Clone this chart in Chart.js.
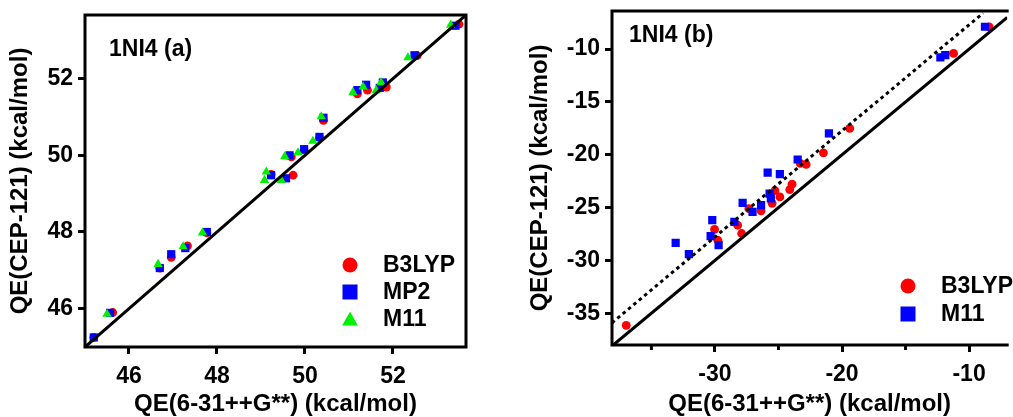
<!DOCTYPE html>
<html>
<head>
<meta charset="utf-8">
<script src="https://cdn.jsdelivr.net/npm/chart.js@4.4.1/dist/chart.umd.min.js"></script>
<style>
  html, body { margin: 0; padding: 0; background: #fff; overflow: hidden; }
  #wrap { position: relative; width: 1013px; height: 417px; }
  #chartA { position: absolute; left: 0; top: 0; }
  #chartB { position: absolute; left: 500px; top: 0; }
</style>
</head>
<body>
<div id="wrap">
  <canvas id="chartA" width="490" height="417"></canvas>
  <canvas id="chartB" width="513" height="417"></canvas>
</div>
<script>
// panel (a): QE(6-31++G**) vs QE(CEP-121), kcal/mol
const aB3lypX = [45.2, 45.63, 46.7, 46.96, 47.33, 47.77, 49.23, 49.73, 49.69, 49.98, 50.33, 50.42, 51.19, 51.42, 51.85, 52.55, 53.5];
const aB3lypY = [45.25, 45.9, 47.06, 47.34, 47.64, 47.98, 49.5, 49.48, 49.96, 50.14, 50.46, 50.91, 51.6, 51.7, 51.78, 52.6, 53.42];
const aMp2X = [45.2, 45.57, 46.7, 46.96, 47.28, 47.77, 49.23, 49.57, 49.65, 49.98, 50.33, 50.42, 51.19, 51.39, 51.7, 51.77, 52.49, 53.42];
const aMp2Y = [45.25, 45.89, 47.06, 47.42, 47.58, 48.0, 49.48, 49.4, 50.0, 50.16, 50.48, 50.98, 51.7, 51.84, 51.76, 51.9, 52.61, 53.38];
const aM11X = [45.5, 46.66, 47.23, 47.67, 49.12, 49.08, 49.46, 49.54, 49.84, 50.18, 50.37, 51.09, 51.32, 51.62, 51.73, 52.34, 53.31];
const aM11Y = [45.86, 47.16, 47.62, 47.98, 49.57, 49.35, 49.35, 49.97, 50.07, 50.37, 51.01, 51.64, 51.79, 51.69, 51.9, 52.55, 53.4];
const aDiag = [45, 53.66];
const aTicks = [46, 48, 50, 52];

// panel (b)
const bB3lypX = [-36.98, -30.03, -29.77, -28.21, -27.9, -27.33, -26.37, -25.5, -25.28, -24.89, -24.11, -23.93, -23.28, -22.82, -21.46, -19.39, -11.22, -8.42];
const bB3lypY = [-36.14, -27.07, -28.09, -26.67, -27.45, -25.1, -25.3, -24.6, -23.4, -23.99, -23.29, -22.78, -20.82, -20.92, -19.82, -17.51, -10.41, -7.9];
const bM11X = [-33.09, -32.05, -30.21, -30.34, -29.71, -28.47, -27.82, -27.04, -26.37, -25.7, -25.6, -25.85, -24.89, -23.49, -21.03, -12.26, -11.87, -8.75];
const bM11Y = [-28.34, -29.41, -26.19, -27.7, -28.56, -26.35, -24.55, -25.4, -24.77, -23.67, -24.14, -21.7, -21.84, -20.45, -17.98, -10.79, -10.57, -7.89];
const bDiag = [-38.1, -7];
const bFitX = [-38.1, -8.9];
const bFitY = [-35.9, -6.6];
const bXTicks = [-30, -20, -10];
const bXMinor = [-35, -25, -15];
const bYTicks = [-35, -30, -25, -20, -15, -10];

const family = '"Liberation Sans", Arial, Helvetica, sans-serif';
const red = '#ff0000', blue = '#0000ff', green = '#00f000';

function pairs(xs, ys) {
  return xs.map((x, i) => ({ x: x, y: ys[i] }));
}

function marker(ctx, style, x, y, r) {
  ctx.beginPath();
  if (style === 'circle') {
    ctx.arc(x, y, r, 0, Math.PI * 2);
  } else if (style === 'rect') {
    ctx.rect(x - r, y - r, 2 * r, 2 * r);
  } else {
    ctx.moveTo(x, y - r);
    ctx.lineTo(x + r * 1.05, y + r * 0.85);
    ctx.lineTo(x - r * 1.05, y + r * 0.85);
    ctx.closePath();
  }
  ctx.fill();
}

// box, minor ticks, panel tag and inset legend
const frame = {
  id: 'frame',
  afterDraw(chart, args, opts) {
    const ctx = chart.ctx, a = chart.chartArea;
    ctx.save();
    ctx.strokeStyle = '#000';
    ctx.lineWidth = 3;
    ctx.lineCap = 'square';
    ctx.beginPath();
    if (opts.sides.includes('top')) { ctx.moveTo(a.left, a.top); ctx.lineTo(a.right, a.top); }
    if (opts.sides.includes('right')) { ctx.moveTo(a.right, a.top); ctx.lineTo(a.right, a.bottom); }
    if (opts.sides.includes('bottom')) { ctx.moveTo(a.left, a.bottom); ctx.lineTo(a.right, a.bottom); }
    if (opts.sides.includes('left')) { ctx.moveTo(a.left, a.top); ctx.lineTo(a.left, a.bottom); }
    ctx.stroke();
    if (opts.minorX) {
      ctx.lineCap = 'butt';
      ctx.beginPath();
      opts.minorX.forEach(v => {
        const px = chart.scales.x.getPixelForValue(v);
        ctx.moveTo(px, a.bottom);
        ctx.lineTo(px, a.bottom + 5);
      });
      ctx.stroke();
    }
    ctx.fillStyle = '#000';
    ctx.font = 'bold 23px ' + family;
    ctx.textBaseline = 'middle';
    ctx.fillText(opts.tag, a.left + opts.tagDx, a.top + opts.tagDy);

    let y = opts.legendY;
    chart.data.datasets.forEach(ds => {
      if (ds.showLine) return;
      ctx.fillStyle = ds.backgroundColor;
      marker(ctx, ds.pointStyle, opts.legendX, y, 7.5);
      ctx.fillStyle = '#000';
      ctx.font = 'bold 23px ' + family;
      ctx.fillText(ds.label, opts.legendX + 33, y + 1);
      y += opts.legendGap;
    });
    ctx.restore();
  }
};

function axis(min, max, ticks, title, size, titlePad) {
  return {
    type: 'linear',
    min: min,
    max: max,
    afterBuildTicks: s => { s.ticks = ticks.map(v => ({ value: v })); },
    afterFit: s => {
      if (s.isHorizontal()) s.height = size; else s.width = size;
      s.paddingTop = 0; s.paddingBottom = 0; s.paddingLeft = 0; s.paddingRight = 0;
    },
    grid: { drawOnChartArea: false, tickLength: 7, lineWidth: 3, color: '#000' },
    border: { display: false },
    ticks: {
      color: '#000',
      font: { family: family, size: 23, weight: 'bold' },
      padding: size < 80 ? 9 : 5,
      maxRotation: 0,
      autoSkip: false
    },
    title: {
      display: true,
      text: title,
      color: '#000',
      font: { family: family, size: 24, weight: 'bold', lineHeight: 1 },
      padding: titlePad
    }
  };
}

const xTitle = 'QE(6-31++G**) (kcal/mol)';
const yTitle = 'QE(CEP-121) (kcal/mol)';

new Chart(document.getElementById('chartA'), {
  type: 'scatter',
  data: {
    datasets: [
      { label: 'B3LYP', data: pairs(aB3lypX, aB3lypY), pointStyle: 'circle', pointRadius: 4.4, backgroundColor: red, borderWidth: 0, order: 3 },
      { label: 'MP2', data: pairs(aMp2X, aMp2Y), pointStyle: 'rect', pointRadius: 5.8, backgroundColor: blue, borderWidth: 0, order: 2 },
      { label: 'M11', data: pairs(aM11X, aM11Y), pointStyle: 'triangle', pointRadius: 5.4, backgroundColor: green, borderWidth: 0, order: 1 },
      { label: '', data: pairs(aDiag, aDiag), showLine: true, pointRadius: 0, borderColor: '#000', borderWidth: 3, order: 0 }
    ]
  },
  options: {
    responsive: false,
    animation: false,
    layout: { padding: { top: 15, right: 24, bottom: 0, left: 0 } },
    scales: {
      x: axis(aDiag[0], aDiag[1], aTicks, xTitle, 70, { top: 0, bottom: 1 }),
      y: axis(aDiag[0], aDiag[1], aTicks, yTitle, 85, { top: 8, bottom: 0 })
    },
    plugins: {
      legend: { display: false },
      tooltip: { enabled: false },
      frame: { sides: ['top', 'right', 'bottom', 'left'], tag: '1NI4 (a)', tagDx: 24, tagDy: 35, legendX: 350, legendY: 265, legendGap: 27 }
    }
  },
  plugins: [frame]
});

new Chart(document.getElementById('chartB'), {
  type: 'scatter',
  data: {
    datasets: [
      { label: 'B3LYP', data: pairs(bB3lypX, bB3lypY), pointStyle: 'circle', pointRadius: 4.4, backgroundColor: red, borderWidth: 0, order: 2 },
      { label: 'M11', data: pairs(bM11X, bM11Y), pointStyle: 'rect', pointRadius: 5.8, backgroundColor: blue, borderWidth: 0, order: 1 },
      { label: '', data: pairs(bDiag, bDiag), showLine: true, pointRadius: 0, borderColor: '#000', borderWidth: 3, order: 0 },
      { label: '', data: pairs(bFitX, bFitY), showLine: true, pointRadius: 0, borderColor: '#000', borderWidth: 3, borderDash: [3.5, 3.5], order: 0 }
    ]
  },
  options: {
    responsive: false,
    animation: false,
    layout: { padding: { top: 11, right: 0, bottom: 0, left: 0 } },
    scales: {
      x: axis(bDiag[0], bDiag[1], bXTicks, xTitle, 72, { top: 0, bottom: 1 }),
      y: axis(-38, -6.4, bYTicks, yTitle, 112, { top: 28, bottom: 0 })
    },
    plugins: {
      legend: { display: false },
      tooltip: { enabled: false },
      frame: { sides: ['top', 'bottom', 'left'], minorX: bXMinor, tag: '1NI4 (b)', tagDx: 17, tagDy: 25, legendX: 408, legendY: 286, legendGap: 28 }
    }
  },
  plugins: [frame]
});
</script>
</body>
</html>
